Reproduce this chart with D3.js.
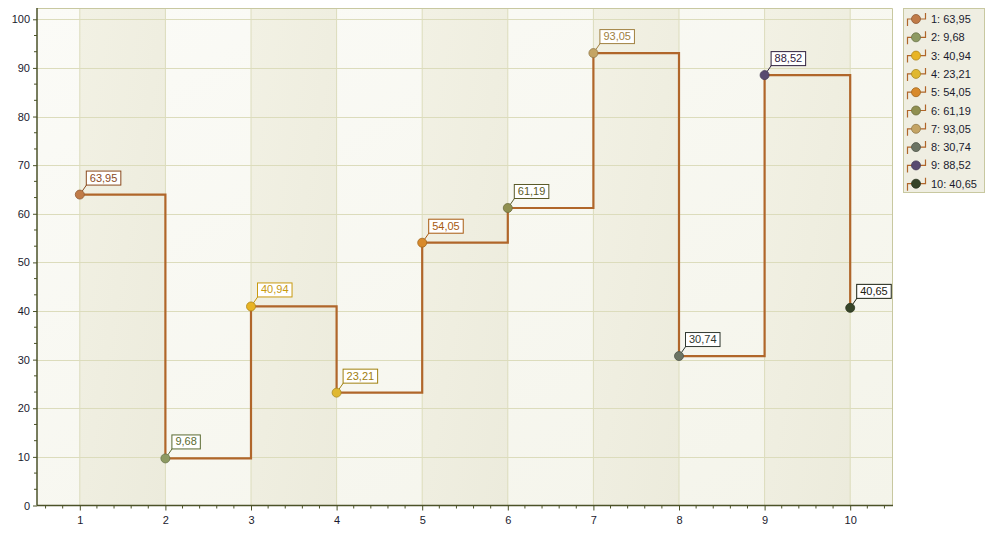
<!DOCTYPE html>
<html><head><meta charset="utf-8">
<script src="https://cdn.jsdelivr.net/npm/d3@7"></script>
<style>body{margin:0;background:#fff;}svg{display:block;font-family:"Liberation Sans",Arial,sans-serif;}</style>
</head><body><svg id="c" width="989" height="535"></svg>
<script>
const categories = [1,2,3,4,5,6,7,8,9,10];
const values = [63.95,9.68,40.94,23.21,54.05,61.19,93.05,30.74,88.52,40.65];
const labels = ["63,95","9,68","40,94","23,21","54,05","61,19","93,05","30,74","88,52","40,65"];
const pointColors = ["#c07b48","#8d9a62","#e8b424","#e0b830","#d88a2c","#909050","#c4a464","#6c7464","#584a70","#364428"];
const labelColors = ["#8a4a1e","#5a6a30","#c89a10","#a08010","#a85a10","#5a5a28","#a08040","#303830","#302040","#1a2010"];
const yTicks = [0,10,20,30,40,50,60,70,80,90,100];

const FONT = "'Liberation Sans',Arial,sans-serif";
const svg = d3.select("#c");
const L=37,R=893,T=8,B=505.5;
const x = d3.scaleLinear().domain([0.5,10.5]).range([L,R]);
const y = d3.scaleLinear().domain([0,100]).range([B,19.3]);

const defs = svg.append("defs");
const g1 = defs.append("linearGradient").attr("id","bg").attr("x1","0").attr("y1","0").attr("x2","1").attr("y2","1");
g1.append("stop").attr("offset","0").attr("stop-color","#fbfbf7");
g1.append("stop").attr("offset","1").attr("stop-color","#f4f4ea");
const g2 = defs.append("linearGradient").attr("id","band").attr("x1","0").attr("y1","0").attr("x2","1").attr("y2","1");
g2.append("stop").attr("offset","0").attr("stop-color","#f2f1e4");
g2.append("stop").attr("offset","1").attr("stop-color","#ecebdc");

svg.append("rect").attr("x",L).attr("y",T).attr("width",R-L).attr("height",B-T).attr("fill","url(#bg)");
svg.selectAll("rect.band").data([1,3,5,7,9]).enter().append("rect")
  .attr("x",d=>x(d)).attr("y",T).attr("width",d=>x(d+1)-x(d)).attr("height",B-T).attr("fill","url(#band)");

svg.selectAll("line.vg").data(categories).enter().append("line")
  .attr("x1",d=>x(d)).attr("x2",d=>x(d)).attr("y1",T).attr("y2",B).attr("stroke","#dcdcbc").attr("stroke-width",1);
svg.selectAll("line.hg").data(yTicks.slice(1)).enter().append("line")
  .attr("x1",L).attr("x2",R).attr("y1",d=>Math.round(y(d))+0.5).attr("y2",d=>Math.round(y(d))+0.5).attr("stroke","#dcdcbc").attr("stroke-width",1);

svg.append("path").attr("d",`M${L},${T+0.5}H${R-0.5}V${B}`).attr("fill","none").attr("stroke","#c8c8a0");

const axisColor="#4b5228";
const yAxis = d3.axisLeft(y).tickValues(yTicks).tickSize(4).tickPadding(3);
const ya = svg.append("g").attr("transform",`translate(${L},0)`).call(yAxis);
const yMinor = d3.range(0,100.01,10/3).filter(v=>Math.abs(v/10-Math.round(v/10))>0.01);
svg.selectAll("line.ym").data(yMinor).enter().append("line")
  .attr("x1",L-3).attr("x2",L).attr("y1",d=>y(d)).attr("y2",d=>y(d)).attr("stroke",axisColor);
const xAxis = d3.axisBottom(x).tickValues(categories).tickSize(5).tickPadding(6);
const xa = svg.append("g").attr("transform",`translate(0,${B})`).call(xAxis);
const xMinor = d3.range(0.6,10.45,0.2).filter(v=>Math.abs(v-Math.round(v))>0.01);
svg.selectAll("line.xm").data(xMinor).enter().append("line")
  .attr("x1",d=>x(d)).attr("x2",d=>x(d)).attr("y1",B).attr("y2",B+3).attr("stroke",axisColor);
[ya,xa].forEach(a=>{
  a.select(".domain").attr("stroke",axisColor).attr("stroke-width",1.5);
  a.selectAll(".tick line").attr("stroke",axisColor);
  a.selectAll(".tick text").attr("fill","#1a1a2e").style("font-size","11px").style("font-family",FONT);
});
ya.select(".domain").attr("d",`M0,${B}V${T}`);
xa.select(".domain").attr("d",`M${L},0H${R}`);

const data = categories.map((c,i)=>({c,v:values[i],i}));
const line = d3.line().x(d=>x(d.c)).y(d=>y(d.v)).curve(d3.curveStepAfter);
svg.append("path").datum(data).attr("d",line).attr("fill","none").attr("stroke","#b0662a").attr("stroke-width",2.2);

const pg = svg.selectAll("g.pt").data(data).enter().append("g");
pg.append("line").attr("x1",d=>x(d.c)).attr("y1",d=>y(d.v)).attr("x2",d=>x(d.c)+7).attr("y2",d=>y(d.v)-10)
  .attr("stroke",d=>labelColors[d.i]).attr("stroke-width",1);
pg.append("circle").attr("cx",d=>x(d.c)).attr("cy",d=>y(d.v)).attr("r",4.5)
  .attr("fill",d=>pointColors[d.i]).attr("stroke",d=>d3.color(pointColors[d.i]).darker(0.8)).attr("stroke-width",0.8);
pg.each(function(d){
  const gg=d3.select(this);
  const t=gg.append("text").attr("x",x(d.c)+10).attr("y",y(d.v)-13).text(labels[d.i])
    .attr("fill",labelColors[d.i]).style("font-size","11px");
  const w=t.node().getComputedTextLength();
  gg.insert("rect","text").attr("x",x(d.c)+6.5).attr("y",y(d.v)-23.5).attr("width",w+7).attr("height",14)
    .attr("fill","#ffffff").attr("stroke",labelColors[d.i]).attr("stroke-width",1);
});

const lg = svg.append("g");
lg.append("rect").attr("x",903.5).attr("y",8.5).attr("width",81).attr("height",184).attr("fill","#efeee2").attr("stroke","#c8c8a0");
const le = lg.selectAll("g.le").data(data).enter().append("g").attr("transform",(d,i)=>`translate(0,${19+i*18.3})`);
le.append("path").attr("d","M907.5,7V0H925.5V-6").attr("fill","none").attr("stroke","#b0662a").attr("stroke-width",1.2);
le.append("circle").attr("cx",916).attr("cy",0).attr("r",4.5).attr("fill",d=>pointColors[d.i]).attr("stroke",d=>d3.color(pointColors[d.i]).darker(0.8)).attr("stroke-width",0.8);
le.append("text").attr("x",931).attr("y",4).text(d=>`${d.c}: ${labels[d.i]}`).attr("fill","#1a1a2e").style("font-size","11px");
</script></body></html>
